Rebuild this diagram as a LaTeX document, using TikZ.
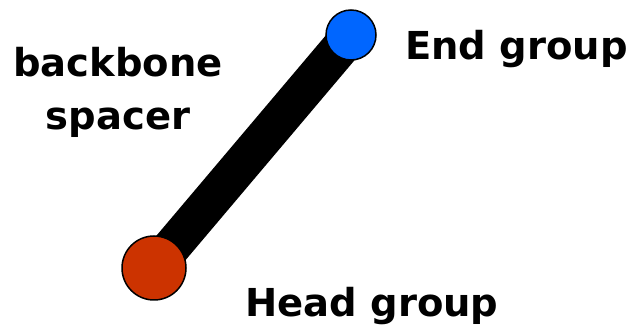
\documentclass[tikz,border=0pt]{standalone}
\usepackage{fontspec}
\setmainfont{DejaVu Sans}
\usepackage{tikz}
\usetikzlibrary{backgrounds}
\definecolor{headred}{HTML}{CC3300}
\definecolor{endblue}{HTML}{0066FF}
\tikzset{
  bead/.style={circle,draw=black,line width=1.5pt,inner sep=0pt},
  lbl/.style={font=\bfseries\fontsize{38.5}{53}\selectfont,inner sep=0pt}
}
\begin{document}
\begin{tikzpicture}[x=1pt,y=-1pt]
\useasboundingbox (0,0) rectangle (635,336);
\node[bead,fill=headred,minimum size=64pt] (head) at (154,268) {};
\node[bead,fill=endblue,minimum size=50pt] (endg) at (351,35) {};
\begin{scope}[on background layer]
  \draw[line width=38pt] (head.center) -- (endg.center);
\end{scope}
\node[lbl,align=center,anchor=base] (spacer) at (118,130) {backbone\\spacer};
\node[lbl,anchor=base west] (endlbl) at (405,60) {End group};
\node[lbl,anchor=base west] (headlbl) at (245,317) {Head group};
\end{tikzpicture}
\end{document}
